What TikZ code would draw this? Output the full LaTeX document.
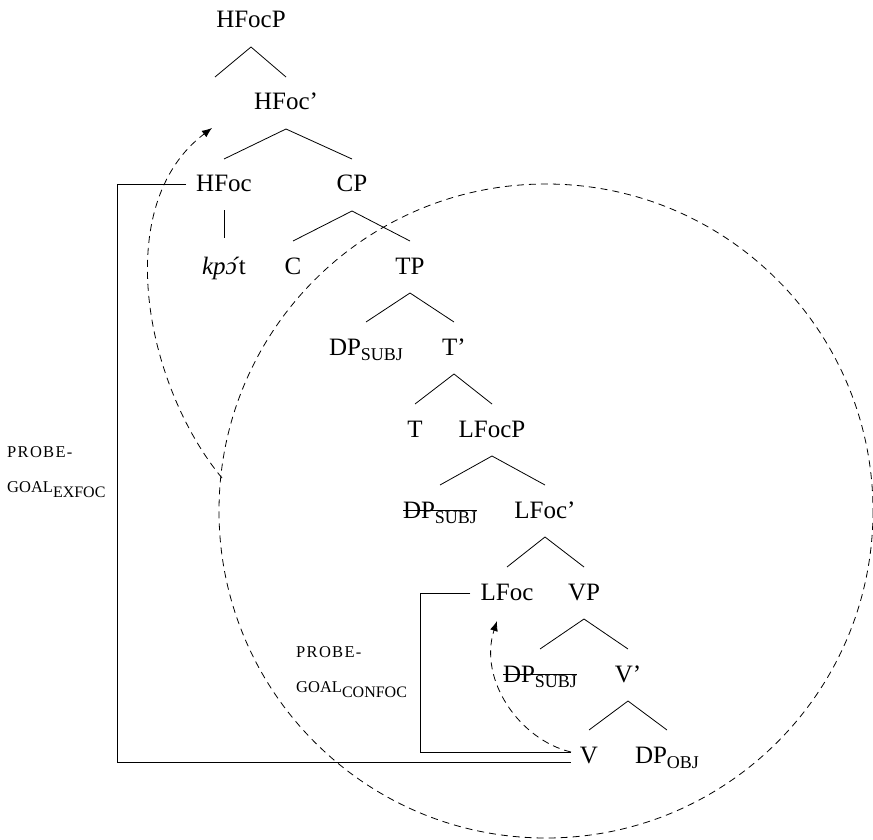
\documentclass[tikz,border=0pt]{standalone}
\usepackage{fontspec}
\setmainfont{Liberation Serif}
\usetikzlibrary{arrows.meta}
\newcommand\sbs[1]{\raisebox{-5pt}{\fontsize{18}{18}\selectfont #1}}
\newcommand\lsb[1]{\raisebox{-5pt}{\fontsize{16}{16}\selectfont #1}}
\newcommand\strk[1]{\setbox0\hbox{#1}\rlap{\rule[7pt]{\wd0}{0.8pt}}\box0}
\newcommand\fsc[1]{{\fontsize{16.5}{16.5}\selectfont #1}}
\newcommand\fscw[1]{{\fontsize{16.5}{16.5}\selectfont\addfontfeature{LetterSpace=8}#1}}
\newcommand\oacute{\ooalign{ɔ\cr\hfil\kern5pt ´\hfil\cr}}
\begin{document}
\begin{tikzpicture}[x=1pt,y=-1pt,
  every node/.style={inner sep=0pt,anchor=base,font=\fontsize{25}{30}\selectfont},
  tree/.style={line width=0.8pt},
  bracket/.style={line width=0.8pt},
  dsh/.style={line width=0.8pt,dash pattern=on 7pt off 5pt},
  tip/.style={-{Latex[length=10pt,width=8pt]}},
  lab/.style={anchor=north west,align=left,font=\fontsize{16.5}{35}\selectfont}]
\useasboundingbox (0,0) rectangle (873,840);
% nodes
\node (hfocp)   at (251,28)  {HFocP};
\node (hfocbar) at (286,110) {HFoc’};
\coordinate (hspec) at (215,110);
\node (hfoc)    at (224,192) {HFoc};
\node (cp)      at (352,192) {CP};
\node (kpot)    at (224,274) {\textit{kp\oacute}t};
\node (c)       at (293,274) {C};
\node (tp)      at (410,274) {TP};
\node (dps1)    at (366,355) {DP\sbs{SUBJ}};
\node (tbar)    at (454,355) {T’};
\node (t)       at (415,437) {T};
\node (lfocp)   at (492,437) {LFocP};
\node (dps2)    at (440,518) {\strk{DP\sbs{SUBJ}}};
\node (lfocbar) at (545,518) {LFoc’};
\node (lfoc)    at (507,600) {LFoc};
\node (vp)      at (584,600) {VP};
\node (dps3)    at (540,682) {\strk{DP\sbs{SUBJ}}};
\node (vbar)    at (628,682) {V’};
\node (v)       at (589,763) {V};
\node (dpobj)   at (667,763) {DP\sbs{OBJ}};
% labels
\node[lab] (lab1) at (7,446) {\fscw{PROBE-}\\\fsc{GOAL}\lsb{EXFOC}};
\node[lab] (lab2) at (296,646) {\fscw{PROBE-}\\\fsc{GOAL}\lsb{CONFOC}};
% tree lines
\draw[tree] ([yshift=-19pt]hfocp.base) -- ([yshift=33pt]hspec);
\foreach \p/\c in {hfocp/hfocbar,hfocbar/hfoc,hfocbar/cp,cp/c,cp/tp,tp/dps1,tp/tbar,
  tbar/t,tbar/lfocp,lfocp/dps2,lfocp/lfocbar,lfocbar/lfoc,lfocbar/vp,vp/dps3,vp/vbar,
  vbar/v,vbar/dpobj}
  \draw[tree] ([yshift=-19pt]\p.base) -- ([yshift=33pt]\c.base);
\draw[tree] ([yshift=-18pt]hfoc.base) -- ([yshift=36pt]kpot.base);
% brackets
\coordinate (k1) at (117,0);
\coordinate (k2) at (420,0);
\draw[bracket] ([xshift=-10pt,yshift=8pt]hfoc.base west) coordinate (a1)
  -- (a1 -| k1) |- ([xshift=-9pt,yshift=1pt]v.base west);
\draw[bracket] ([xshift=-10pt,yshift=7pt]lfoc.base west) coordinate (a2)
  -- (a2 -| k2) |- ([xshift=-9pt,yshift=11pt]v.base west);
% dashed circle
\draw[dsh] (546,511) circle [radius=327];
% arrows
\coordinate (s1) at (222,478);
\coordinate (e1) at (212,128);
\draw[dsh,tip] (s1) .. controls (145,385) and (110,205) .. (e1);
\coordinate (s2) at (571,752);
\coordinate (e2) at (497,621);
\draw[dsh,tip] (s2) .. controls (520,740) and (478,680) .. (e2);
\end{tikzpicture}
\end{document}
